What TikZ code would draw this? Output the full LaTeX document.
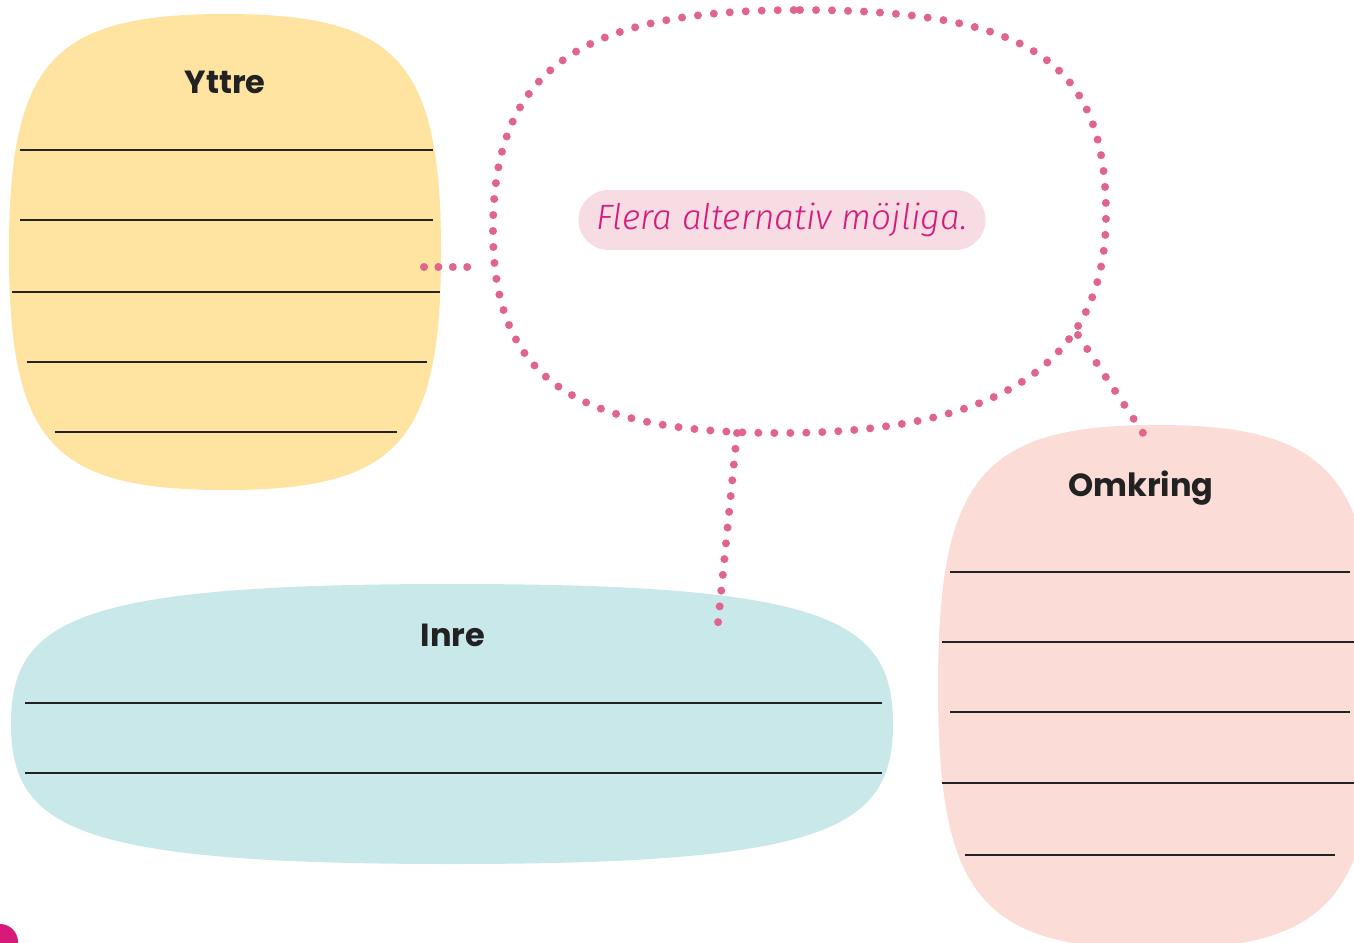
\documentclass[tikz,border=0pt]{standalone}
\usepackage{fontspec}
\setmainfont{Poppins}
\newfontfamily\labelfont{Fira Sans Light}[ItalicFont={Fira Sans Light Italic}]
\definecolor{yel}{HTML}{FEE3A1}
\definecolor{blu}{HTML}{C8E8EA}
\definecolor{pnk}{HTML}{FBDCD7}
\definecolor{dotc}{HTML}{E0648C}
\definecolor{magc}{HTML}{D6197A}
\definecolor{pillc}{HTML}{F7DCE3}
\definecolor{ink}{HTML}{222222}
\newcommand{\blobpath}[6]{({#1},{#2-#4}) .. controls ({#1+#5*#3},{#2-#4}) and ({#1+#3},{#2-#6*#4}) .. ({#1+#3},{#2}) .. controls ({#1+#3},{#2+#6*#4}) and ({#1+#5*#3},{#2+#4}) .. ({#1},{#2+#4}) .. controls ({#1-#5*#3},{#2+#4}) and ({#1-#3},{#2+#6*#4}) .. ({#1-#3},{#2}) .. controls ({#1-#3},{#2-#6*#4}) and ({#1-#5*#3},{#2-#4}) .. cycle}
\tikzset{
  dotline/.style={draw=dotc, line width=4pt, line cap=round, dash pattern=on 0pt off 8pt},
  wline/.style={draw=ink, line width=0.55pt},
  heading/.style={font=\fontsize{16}{18}\selectfont\bfseries, text=ink, inner sep=0pt},
}
\begin{document}
\begin{tikzpicture}[x=0.5pt,y=-0.5pt]
\useasboundingbox (0,0) rectangle (1354,942);
\clip (0,0) rectangle (1354,942);
% blobs
\fill[yel] \blobpath{225}{252}{216}{238}{0.8}{0.8};
\fill[blu] \blobpath{452}{724}{441}{140}{0.85}{0.75};
\fill[pnk] \blobpath{1157}{687}{219}{262}{0.8}{0.8};
\fill[magc] (0,942) circle (18);
% headings
\node[heading] (yttre) at (225,82) {Yttre};
\node[heading] (inre) at (453,635) {Inre};
\node[heading] (omkring) at (1141,488) {Omkring};
% writing lines
\draw[wline] (20,150) -- (433,150);
\draw[wline] (20,220) -- (433,220);
\draw[wline] (12,292) -- (440,292);
\draw[wline] (27,362) -- (427,362);
\draw[wline] (55,432) -- (397,432);
\draw[wline] (25,703) -- (882,703);
\draw[wline] (25,773) -- (882,773);
\draw[wline] (950,572) -- (1350,572);
\draw[wline] (942,642) -- (1354,642);
\draw[wline] (950,712) -- (1350,712);
\draw[wline] (942,783) -- (1354,783);
\draw[wline] (965,855) -- (1335,855);
% bubble
\draw[dotline] (800,10) .. controls (1030,10) and (1106,61) .. (1106,215)
  .. controls (1106,346) and (1024,433) .. (780,433)
  .. controls (565,433) and (493,372) .. (493,230)
  .. controls (493,65) and (585,10) .. (800,10) -- cycle;
\node[fill=pillc, rounded corners=15pt, minimum width=203.5pt, minimum height=30pt, inner sep=0pt,
  font=\labelfont\itshape\fontsize{17.6}{20}\selectfont, text=magc] (hint) at (782,220) {Flera alternativ möjliga.};
% connectors
\coordinate (y1) at (424,267);
\coordinate (y2) at (467.5,267);
\coordinate (i1) at (737,433);
\coordinate (i2) at (718,623);
\coordinate (o1) at (1078,335);
\coordinate (o2) at (1143,433);
\draw[dotline, dash pattern=on 0pt off 7.2pt] (y1) -- (y2);
\draw[dotline, dash pattern=on 0pt off 7.92pt] (i1) -- (i2);
\draw[dotline, dash pattern=on 0pt off 8.38pt] (o1) -- (o2);
\end{tikzpicture}
\end{document}
